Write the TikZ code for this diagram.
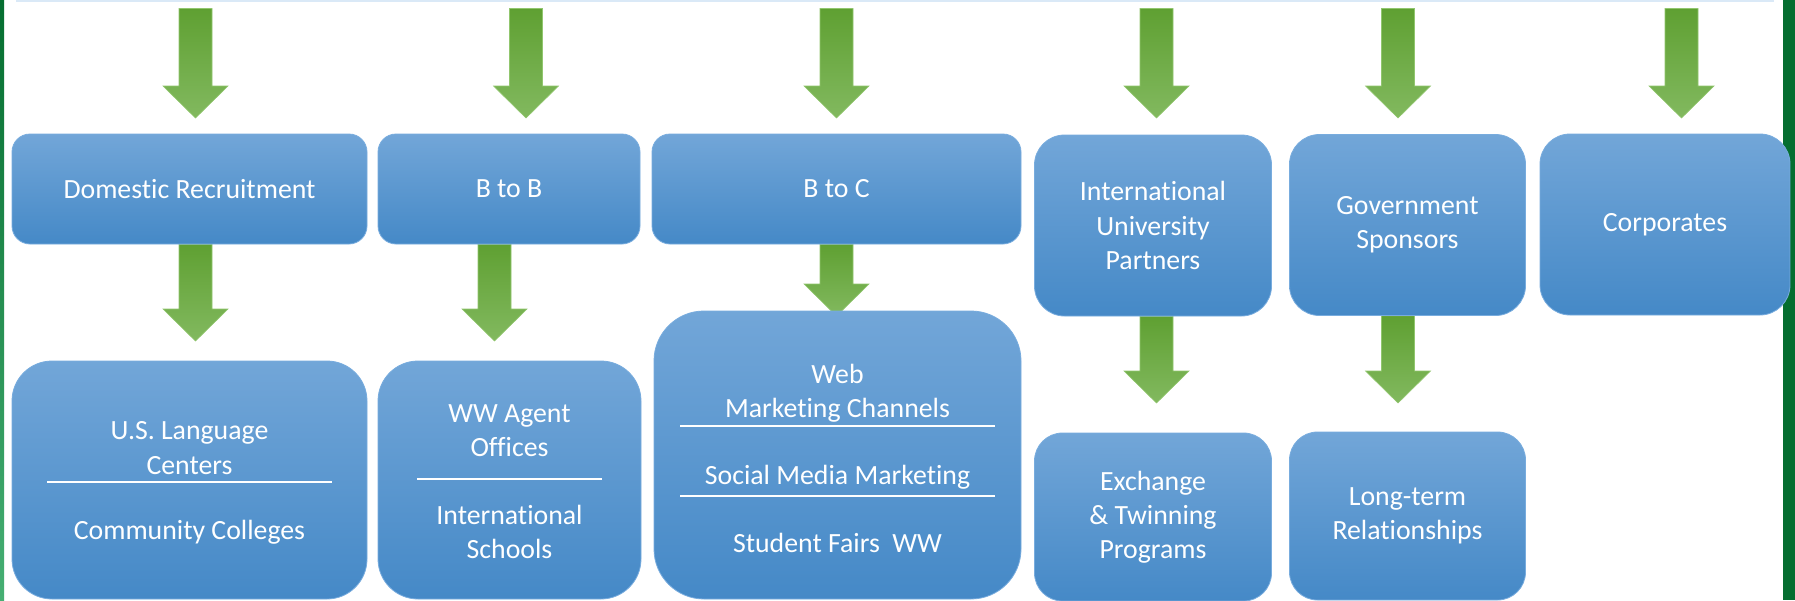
\documentclass[tikz,border=0pt]{standalone}
\usepackage{fontspec}
\setmainfont{Carlito}[Ligatures=NoCommon]
\usetikzlibrary{calc}
\pgfdeclarelayer{bg}
\pgfdeclarelayer{back}
\pgfsetlayers{bg,back,main}
\definecolor{boxtop}{RGB}{114,166,216}
\definecolor{boxmid}{RGB}{86,155,219}
\definecolor{boxbot}{RGB}{69,137,199}
\definecolor{boxedge}{RGB}{120,172,222}
\definecolor{arrtop}{RGB}{95,160,50}
\definecolor{arrbot}{RGB}{130,185,95}
\definecolor{arredge}{RGB}{145,198,110}
\definecolor{stripdark}{RGB}{5,110,48}
\definecolor{striplight}{RGB}{70,175,115}
\definecolor{topline}{RGB}{218,233,247}
\tikzset{
  box/.style={rectangle, top color=boxtop, middle color=boxmid, bottom color=boxbot,
    draw=boxedge, line width=0.8pt, inner sep=0pt, text=white, align=center,
    font=\fontsize{27.8}{34.2}\selectfont},
  lbl/.style={text=white, align=center, inner sep=0pt,
    font=\fontsize{27.8}{34.2}\selectfont},
  divider/.style={draw=white, line width=2pt},
  arrowbody/.style={top color=arrtop, bottom color=arrbot, draw=arredge, line width=0.6pt},
}
\newcommand{\blockarrow}[2]{%
  \path[arrowbody] let \p1=(#1), \p2=(#2) in
    (\x1-16.5pt,\y1) -- (\x1+16.5pt,\y1) -- (\x1+16.5pt,\y2+32pt) --
    (\x1+32.5pt,\y2+32pt) -- (\x2,\y2) -- (\x1-32.5pt,\y2+32pt) --
    (\x1-16.5pt,\y2+32pt) -- cycle;}
\begin{document}
\begin{tikzpicture}[x=1pt,y=-1pt]
\useasboundingbox (0,0) rectangle (1795,600);
\begin{pgfonlayer}{bg}
  \fill[white] (0,0) rectangle (1795,600);
  \shade[top color=stripdark, bottom color=striplight] (0,0) rectangle (4,600);
  \fill[stripdark] (1783,0) rectangle (1795,600);
  \fill[topline] (16,0) rectangle (1774,2);
\end{pgfonlayer}

% top row boxes
\node[box, minimum width=355pt, minimum height=110pt, rounded corners=18pt] (t1) at (189.5,189) {Domestic Recruitment};
\node[box, minimum width=262pt, minimum height=110pt, rounded corners=18pt] (t2) at (509,189) {B to B};
\node[box, minimum width=369pt, minimum height=110pt, rounded corners=18pt] (t3) at (836.5,189) {B to C};
\node[box, minimum width=237pt, minimum height=181pt, rounded corners=30pt] (t4) at (1153,225.5) {International\\University\\Partners};
\node[box, minimum width=236pt, minimum height=181pt, rounded corners=30pt] (t5) at (1407.5,225) {Government\\Sponsors};
\node[box, minimum width=250pt, minimum height=181pt, rounded corners=30pt] (t6) at (1665,224.5) {Corporates};

% bottom row boxes
\node[box, minimum width=355pt, minimum height=238pt, rounded corners=40pt] (b1) at (189.5,480) {};
\node[box, minimum width=263pt, minimum height=238pt, rounded corners=40pt] (b2) at (509.5,480) {};
\node[box, minimum width=367pt, minimum height=288pt, rounded corners=50pt] (b3) at (837.5,455) {};
\node[box, minimum width=237pt, minimum height=168pt, rounded corners=28pt] (b4) at (1153,517) {Exchange\\\& Twinning\\Programs};
\node[box, minimum width=236pt, minimum height=168pt, rounded corners=28pt] (b5) at (1407.5,516) {Long-term\\Relationships};

% texts in bottom boxes
\node[lbl] (b1a) at (189.5,448) {U.S. Language\\Centers};
\node[lbl] (b1b) at (189.5,532) {Community Colleges};
\draw[divider] (47,482) -- (332,482);
\node[lbl] (b2a) at (509.5,431) {WW Agent\\Offices};
\node[lbl] (b2b) at (509.5,532) {International\\Schools};
\draw[divider] (417,479) -- (602,479);
\node[lbl] (b3a) at (837.5,393) {Web\\Marketing Channels};
\node[lbl] (b3b) at (837.5,477) {Social Media Marketing};
\node[lbl] (b3c) at (837.5,543) {Student Fairs\ \ WW};
\draw[divider] (680,426) -- (995,426);
\draw[divider] (680,496) -- (995,496);

% arrow coordinates
\coordinate (s1) at (195.5,8.5);  \coordinate (e1) at (195.5,118);
\coordinate (s2) at (526,8.5);    \coordinate (e2) at (526,118);
\coordinate (s3) at (836.5,8.5);  \coordinate (e3) at (836.5,118);
\coordinate (s4) at (1156.5,8.5); \coordinate (e4) at (1156.5,118);
\coordinate (s5) at (1398,8.5);   \coordinate (e5) at (1398,118);
\coordinate (s6) at (1681.5,8.5); \coordinate (e6) at (1681.5,118);
\coordinate (l1) at (195.5,341);
\coordinate (l2) at (494.5,341);
\coordinate (l3) at (836.5,316);
\coordinate (l4) at (1156.5,403);
\coordinate (l5) at (1398,403);

\begin{pgfonlayer}{back}
  \blockarrow{s1}{e1}
  \blockarrow{s2}{e2}
  \blockarrow{s3}{e3}
  \blockarrow{s4}{e4}
  \blockarrow{s5}{e5}
  \blockarrow{s6}{e6}
  \blockarrow{t1.south -| l1}{l1}
  \blockarrow{t2.south -| l2}{l2}
  \blockarrow{t3.south -| l3}{l3}
  \blockarrow{t4.south -| l4}{l4}
  \blockarrow{t5.south -| l5}{l5}
\end{pgfonlayer}
\end{tikzpicture}
\end{document}
